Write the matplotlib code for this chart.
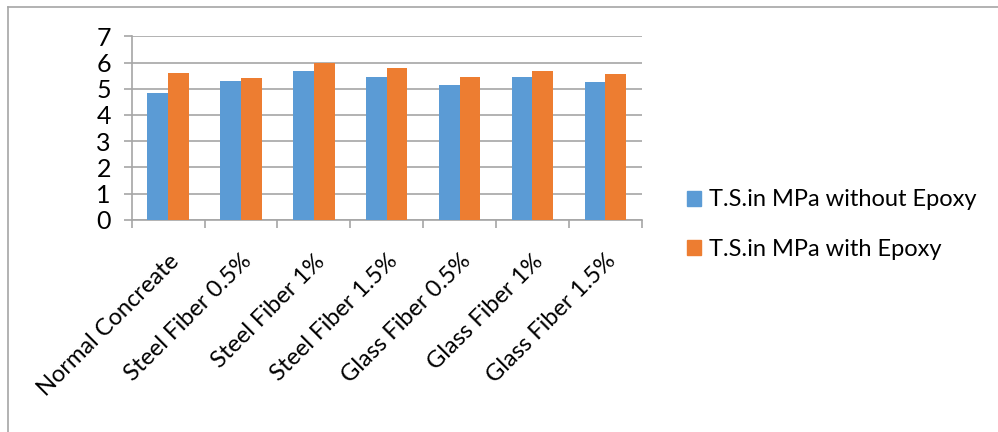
import numpy as np
import matplotlib.pyplot as plt
from matplotlib.lines import Line2D

categories = ["Normal Concreate", "Steel Fiber 0.5%", "Steel Fiber 1%", "Steel Fiber 1.5%",
              "Glass Fiber 0.5%", "Glass Fiber 1%", "Glass Fiber 1.5%"]
without_epoxy = [4.85, 5.3, 5.68, 5.45, 5.13, 5.45, 5.25]
with_epoxy = [5.6, 5.4, 6.0, 5.78, 5.45, 5.68, 5.55]
series_labels = ["T.S.in MPa without Epoxy", "T.S.in MPa with Epoxy"]

plt.rcParams['font.family'] = ['Lato', 'DejaVu Sans']

fig = plt.figure(figsize=(9.98, 4.32), dpi=100)
ax = fig.add_axes([0.132, 0.491, 0.511, 0.425])

x = np.arange(len(categories))
w = 0.285
ax.bar(x - w / 2, without_epoxy, w, color="#5B9BD5", zorder=3)
ax.bar(x + w / 2, with_epoxy, w, color="#ED7D31", zorder=3)

ax.set_xlim(-0.5, len(categories) - 0.5)
ax.set_ylim(0, 7)
ax.set_yticks(range(8))
ax.yaxis.grid(True, color="#A6A6A6", linewidth=1.2, zorder=0)
ax.tick_params(axis='y', length=6, width=1.2, color="#A6A6A6", labelsize=18, pad=9)

# category labels at the centres, tick marks on the boundaries
ax.set_xticks(x)
ax.set_xticklabels(categories, rotation=45, ha='right', rotation_mode='anchor', fontsize=17)
ax.set_xticks(np.arange(-0.5, len(categories)), minor=True)
ax.tick_params(axis='x', which='major', length=0, pad=22)
ax.tick_params(axis='x', which='minor', length=6, width=1.2, color="#A6A6A6")

for side in ["top", "right"]:
    ax.spines[side].set_visible(False)
for side in ["left", "bottom"]:
    ax.spines[side].set_color("#A6A6A6")
    ax.spines[side].set_linewidth(1.2)

handles = [plt.Rectangle((0, 0), 1, 1, color="#5B9BD5"), plt.Rectangle((0, 0), 1, 1, color="#ED7D31")]
fig.legend(handles, series_labels, loc='center left', bbox_to_anchor=(0.667, 0.48),
           frameon=False, fontsize=17, handlelength=0.6, handleheight=0.6,
           handletextpad=0.35, labelspacing=1.2)

# outer chart border (left and top)
fig.add_artist(Line2D([0.008, 0.008], [0, 0.984], color="#A6A6A6", linewidth=1.2))
fig.add_artist(Line2D([0.008, 1.0], [0.984, 0.984], color="#A6A6A6", linewidth=1.2))

fig.savefig("out.png", dpi=100)
